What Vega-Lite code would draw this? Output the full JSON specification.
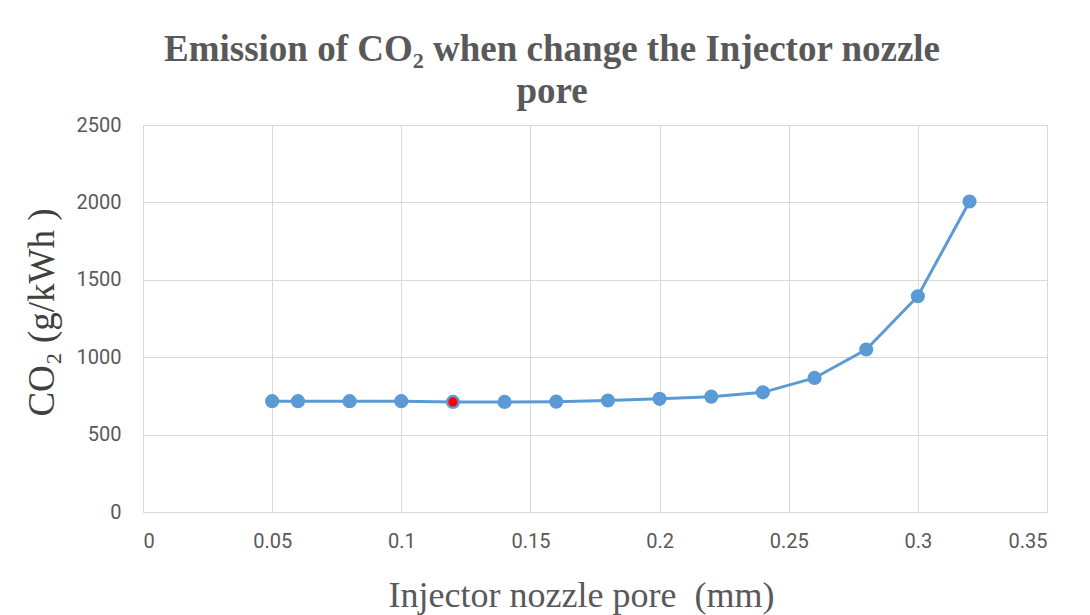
{
  "$schema": "https://vega.github.io/schema/vega-lite/v6.json",
  "width": 904,
  "height": 387,
  "autosize": {"type": "none"},
  "padding": {"left": 143, "top": 125, "right": 43, "bottom": 103},
  "background": "white",
  "title": {
    "text": ["Emission of CO₂ when change the Injector nozzle", "pore"],
    "font": "Times New Roman, Liberation Serif, serif",
    "fontSize": 37,
    "fontWeight": "bold",
    "color": "#595959",
    "anchor": "middle",
    "dx": -43,
    "offset": 4,
    "lineHeight": 42
  },
  "data": {
    "values": [
      {"pore": 0.05, "co2": 716, "hl": false},
      {"pore": 0.06, "co2": 716, "hl": false},
      {"pore": 0.08, "co2": 716, "hl": false},
      {"pore": 0.10, "co2": 716, "hl": false},
      {"pore": 0.12, "co2": 711, "hl": true},
      {"pore": 0.14, "co2": 711, "hl": false},
      {"pore": 0.16, "co2": 713, "hl": false},
      {"pore": 0.18, "co2": 720, "hl": false},
      {"pore": 0.20, "co2": 731, "hl": false},
      {"pore": 0.22, "co2": 745, "hl": false},
      {"pore": 0.24, "co2": 773, "hl": false},
      {"pore": 0.26, "co2": 866, "hl": false},
      {"pore": 0.28, "co2": 1050, "hl": false},
      {"pore": 0.30, "co2": 1394, "hl": false},
      {"pore": 0.32, "co2": 2006, "hl": false}
    ]
  },
  "encoding": {
    "x": {
      "field": "pore",
      "type": "quantitative",
      "scale": {"domain": [0, 0.35], "nice": false, "zero": true},
      "axis": {
        "values": [0, 0.05, 0.1, 0.15, 0.2, 0.25, 0.3, 0.35],
        "format": ".2~f",
        "title": "Injector nozzle pore\u00a0\u00a0(mm)",
        "titleFont": "Times New Roman, Liberation Serif, serif",
        "titleFontSize": 36,
        "titleFontWeight": "normal",
        "titleColor": "#595959",
        "titleX": 438,
        "titleY": 83,
        "titleBaseline": "middle",
        "titleAnchor": null,
        "labelFont": "Roboto",
        "labelFontSize": 20,
        "labelColor": "#595959",
        "labelPadding": 19,
        "ticks": false,
        "domainColor": "#d9d9d9",
        "domainWidth": 1,
        "grid": true,
        "gridColor": "#d9d9d9",
        "gridWidth": 1
      }
    },
    "y": {
      "field": "co2",
      "type": "quantitative",
      "scale": {"domain": [0, 2500], "nice": false},
      "axis": {
        "values": [0, 500, 1000, 1500, 2000, 2500],
        "format": "d",
        "title": "CO₂ (g/kWh )",
        "titleFont": "Times New Roman, Liberation Serif, serif",
        "titleFontSize": 37,
        "titleFontWeight": "normal",
        "titleColor": "#404040",
        "titleX": -101,
        "titleY": 187,
        "titleAngle": -90,
        "titleBaseline": "middle",
        "titleAlign": "center",
        "labelFont": "Roboto",
        "labelFontSize": 20,
        "labelColor": "#595959",
        "labelPadding": 22,
        "ticks": false,
        "domain": false,
        "grid": true,
        "gridColor": "#d9d9d9",
        "gridWidth": 1
      }
    }
  },
  "layer": [
    {"mark": {"type": "line", "color": "#5b9bd5", "strokeWidth": 3}},
    {"mark": {"type": "point", "filled": true, "color": "#5b9bd5", "size": 200, "opacity": 1}},
    {
      "transform": [{"filter": "datum.hl"}],
      "mark": {"type": "point", "filled": true, "color": "#ff0000", "size": 85, "opacity": 1}
    }
  ],
  "config": {"view": {"stroke": null}}
}
